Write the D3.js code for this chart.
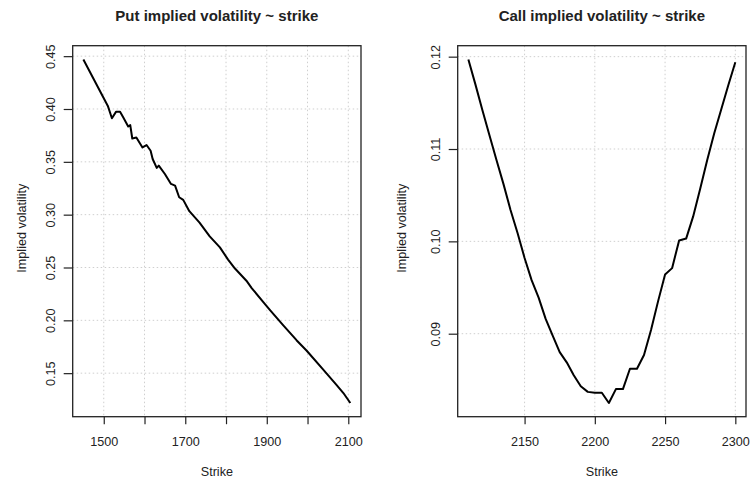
<!DOCTYPE html>
<html>
<head>
<meta charset="utf-8">
<script src="https://cdn.jsdelivr.net/npm/d3@7"></script>
<style>
  html, body { margin: 0; padding: 0; background: #fff; }
  svg { display: block; }
  text { font-family: "Liberation Sans", Arial, sans-serif; fill: #222; }
</style>
</head>
<body>
<svg id="chart" width="750" height="483"></svg>
<script>
// ---- Data ----
const putStrike = [1450, 1510, 1520, 1530, 1540, 1548, 1560, 1565, 1570, 1580, 1595, 1605, 1615, 1620, 1630, 1635, 1650, 1665, 1675, 1685, 1695, 1710, 1735, 1760, 1785, 1805, 1822, 1850, 1863, 1891, 1908, 1940, 1973, 1998, 2038, 2071, 2088, 2105];
const putIV = [0.4469, 0.4029, 0.3913, 0.3973, 0.3973, 0.3919, 0.3834, 0.3847, 0.3721, 0.3730, 0.3636, 0.3659, 0.3605, 0.3527, 0.3442, 0.3464, 0.3385, 0.3291, 0.3275, 0.3165, 0.3140, 0.3033, 0.2925, 0.2795, 0.2690, 0.2575, 0.2490, 0.2375, 0.2305, 0.2175, 0.2097, 0.1955, 0.1812, 0.1712, 0.1535, 0.1390, 0.1312, 0.1218];

const callStrike = [2110, 2115, 2120, 2125, 2130, 2135, 2140, 2145, 2150, 2155, 2160, 2165, 2170, 2175, 2180, 2185, 2190, 2195, 2200, 2205, 2210, 2215, 2220, 2225, 2230, 2235, 2240, 2245, 2250, 2255, 2260, 2265, 2270, 2275, 2280, 2285, 2290, 2295, 2300];
const callIV = [0.1197, 0.1170, 0.1142, 0.1115, 0.1088, 0.1062, 0.1034, 0.1009, 0.0982, 0.0958, 0.0939, 0.0916, 0.0898, 0.0880, 0.0869, 0.0855, 0.0843, 0.0837, 0.0836, 0.0836, 0.0825, 0.0840, 0.0840, 0.0862, 0.0862, 0.0877, 0.0904, 0.0935, 0.0964, 0.0971, 0.1001, 0.1003, 0.1027, 0.1057, 0.1088, 0.1117, 0.1143, 0.1169, 0.1194];

const putXTicks = [1500, 1600, 1700, 1800, 1900, 2000, 2100];
const putXLabels = [1500, 1700, 1900, 2100];
const putYTicks = [0.15, 0.20, 0.25, 0.30, 0.35, 0.40, 0.45];
const callXTicks = [2150, 2200, 2250, 2300];
const callXLabels = [2150, 2200, 2250, 2300];
const callYTicks = [0.09, 0.10, 0.11, 0.12];

const titles = ["Put implied volatility ~ strike", "Call implied volatility ~ strike"];
const xTitle = "Strike";
const yTitle = "Implied volatility";

// ---- Layout ----
const svg = d3.select("#chart");
const plotTop = 45.7, plotBottom = 416.7;

function rExtent(arr) {
  const [a, b] = d3.extent(arr);
  const d = (b - a) * 0.04;
  return [a - d, b + d];
}

function panel(cfg) {
  const { left, right, xs, ys, xTicks, xLabels, yTicks, yFmt, title, yTickX, yTitleX } = cfg;
  const x = d3.scaleLinear().domain(rExtent(xs)).range([left, right]);
  const y = d3.scaleLinear().domain(rExtent(ys)).range([plotBottom, plotTop]);
  const g = svg.append("g");

  // grid
  g.append("g").selectAll("line").data(xTicks).join("line")
    .attr("x1", d => x(d)).attr("x2", d => x(d)).attr("y1", plotTop).attr("y2", plotBottom)
    .attr("stroke", "#cfcfcf").attr("stroke-width", 1).attr("stroke-dasharray", "1.5,2.5");
  g.append("g").selectAll("line").data(yTicks).join("line")
    .attr("y1", d => y(d)).attr("y2", d => y(d)).attr("x1", left).attr("x2", right)
    .attr("stroke", "#cfcfcf").attr("stroke-width", 1).attr("stroke-dasharray", "1.5,2.5");

  // line
  const line = d3.line().x((d, i) => x(xs[i])).y(d => y(d));
  g.append("path").datum(ys).attr("d", line)
    .attr("fill", "none").attr("stroke", "#000").attr("stroke-width", 2)
    .attr("stroke-linejoin", "round").attr("stroke-linecap", "butt");

  // box
  g.append("rect").attr("x", left).attr("y", plotTop).attr("width", right - left).attr("height", plotBottom - plotTop)
    .attr("fill", "none").attr("stroke", "#222").attr("stroke-width", 1.3);

  // x axis
  const xAxis = d3.axisBottom(x).tickValues(xTicks).tickSize(7.5).tickPadding(13)
    .tickFormat(d => xLabels.includes(d) ? String(d) : "");
  const xa = g.append("g").attr("transform", `translate(0,${plotBottom})`).call(xAxis);
  xa.select(".domain").remove();
  xa.selectAll("line").attr("stroke", "#222").attr("stroke-width", 1.2);
  xa.selectAll("text").attr("font-size", "12.6px").attr("fill", "#222")
    .attr("font-family", "Liberation Sans, Arial, sans-serif").attr("dy", "0.71em");

  // y axis
  const yAxis = d3.axisLeft(y).tickValues(yTicks).tickSize(9).tickFormat(yFmt);
  const ya = g.append("g").attr("transform", `translate(${left},0)`).call(yAxis);
  ya.select(".domain").remove();
  ya.selectAll("line").attr("stroke", "#222").attr("stroke-width", 1.2);
  ya.selectAll("text")
    .attr("x", null).attr("dy", null)
    .attr("text-anchor", "middle").attr("font-size", "12.6px").attr("fill", "#222")
    .attr("font-family", "Liberation Sans, Arial, sans-serif")
    .attr("transform", `translate(${yTickX - left},0) rotate(-90)`);

  // titles
  g.append("text").attr("x", (left + right) / 2).attr("y", 20.5)
    .attr("text-anchor", "middle").attr("font-size", "15px").attr("font-weight", "bold")
    .attr("fill", "#111").text(title);
  g.append("text").attr("x", (left + right) / 2).attr("y", 476)
    .attr("text-anchor", "middle").attr("font-size", "12.6px").text(xTitle);
  g.append("text").attr("transform", `translate(${yTitleX},${(plotTop + plotBottom) / 2 - 3}) rotate(-90)`)
    .attr("text-anchor", "middle").attr("font-size", "12.6px").text(yTitle);
}

panel({ left: 72.7, right: 361, xs: putStrike, ys: putIV, xTicks: putXTicks, xLabels: putXLabels,
  yTicks: putYTicks, yFmt: d3.format(".2f"), title: titles[0], yTickX: 55.5, yTitleX: 26 });
panel({ left: 457.7, right: 746, xs: callStrike, ys: callIV, xTicks: callXTicks, xLabels: callXLabels,
  yTicks: callYTicks, yFmt: d3.format(".2f"), title: titles[1], yTickX: 440, yTitleX: 406 });
</script>
</body>
</html>
